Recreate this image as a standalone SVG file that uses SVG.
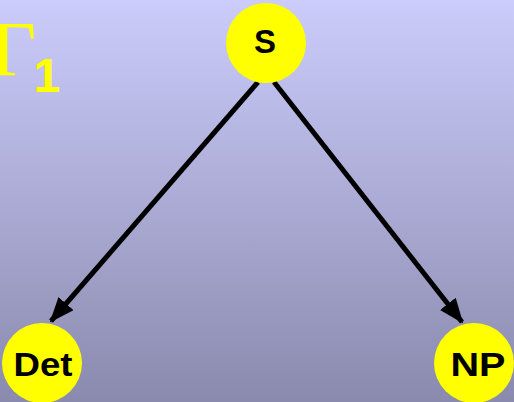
<svg xmlns="http://www.w3.org/2000/svg" width="514" height="402" viewBox="0 0 514 402">
<defs>
<linearGradient id="bg" x1="0" y1="0" x2="0" y2="1">
<stop offset="0" stop-color="#CCCCFC"/>
<stop offset="1" stop-color="#8A8AAE"/>
</linearGradient>
<marker id="ah" markerWidth="5" markerHeight="4" refX="4.6" refY="2" orient="auto" markerUnits="strokeWidth">
<path d="M0,0 L5,2 L0,4 Z" fill="#000"/>
</marker>
<style>
.node{fill:#FFFF00;}
.lbl{font-family:"Liberation Sans",Arial,sans-serif;font-weight:bold;font-size:33px;fill:#000;text-anchor:middle;}
.edge{stroke:#000;stroke-width:5;fill:none;marker-end:url(#ah);}
</style>
</defs>
<rect width="514" height="402" fill="url(#bg)"/>
<g id="title">
<text x="-9" y="75" font-family="'Liberation Serif','Times New Roman',serif" font-size="78" fill="#FFFF00">Γ</text>
<text x="33.5" y="92" font-family="'Liberation Sans',Arial,sans-serif" font-weight="bold" font-size="48" fill="#FFFF00">1</text>
</g>
<g id="connectors">
<line class="edge" x1="258" y1="82" x2="51" y2="321"/>
<line class="edge" x1="274" y1="82" x2="462" y2="322"/>
</g>
<g id="node-S">
<circle class="node" cx="266" cy="43" r="40"/>
<text class="lbl" x="265" y="53">S</text>
</g>
<g id="node-Det">
<circle class="node" cx="42" cy="363" r="40"/>
<text class="lbl" x="43" y="376" textLength="59" lengthAdjust="spacingAndGlyphs">Det</text>
</g>
<g id="node-NP">
<circle class="node" cx="474" cy="363" r="40"/>
<text class="lbl" x="478" y="376" textLength="55" lengthAdjust="spacingAndGlyphs">NP</text>
</g>
</svg>
